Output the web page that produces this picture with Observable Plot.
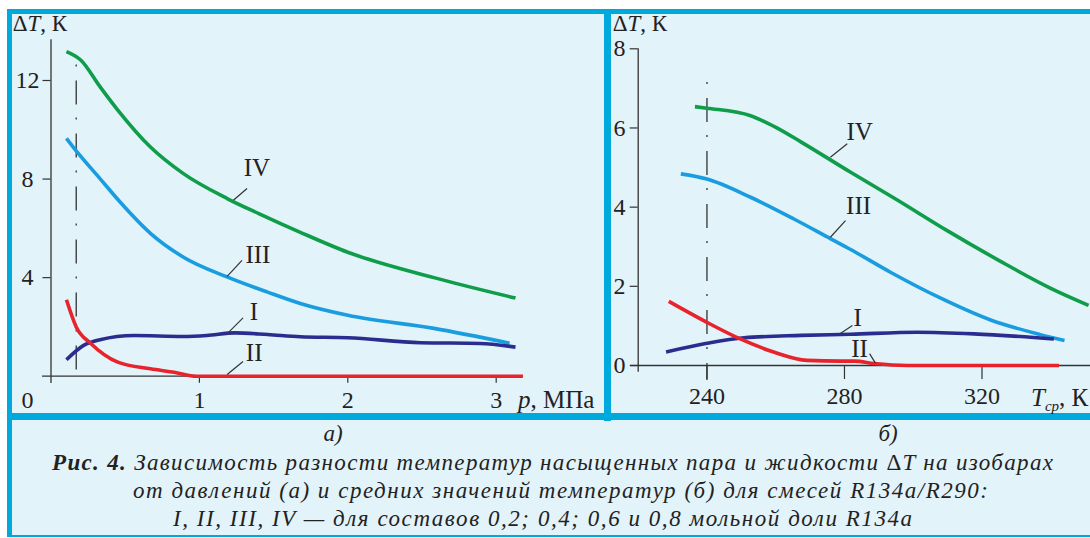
<!DOCTYPE html>
<html>
<head>
<meta charset="utf-8">
<script src="https://cdn.jsdelivr.net/npm/d3@7"></script>
<script src="https://cdn.jsdelivr.net/npm/@observablehq/plot@0.6"></script>
<style>
  html, body { margin: 0; padding: 0; background: #fff; }
  #wrap { position: relative; width: 1090px; height: 538px; overflow: hidden; background: #fff; font-family: "Liberation Serif", serif; }
  .blk { position: absolute; }
  .bg { background: #e2f3fa; }
  .cy { background: #00a9dc; }
  #left, #right { position: absolute; top: 14px; }
  #left { left: 12px; }
  #right { left: 611px; }
  #overlay { position: absolute; left: 0; top: 0; }
</style>
</head>
<body>
<div id="wrap">
  <div class="blk bg" style="left:7px;top:9px;width:1083px;height:412px"></div>
  <div class="blk bg" style="left:7px;top:420px;width:1083px;height:116px"></div>
  <div class="blk cy" style="left:7px;top:9px;width:1083px;height:5px"></div>
  <div class="blk cy" style="left:7px;top:9px;width:5px;height:528px"></div>
  <div class="blk cy" style="left:604px;top:9px;width:7px;height:412px"></div>
  <div class="blk cy" style="left:7px;top:413px;width:1083px;height:7px"></div>
  <div class="blk cy" style="left:7px;top:535px;width:1083px;height:2px"></div>
  <div id="left"></div>
  <div id="right"></div>
  <svg id="overlay" width="1090" height="538" font-family="Liberation Serif" fill="#222"></svg>
</div>
<script>
// ---------- DATA ----------
// Panel а): ΔT vs p (MPa)
const seriesNames = ["I", "II", "III", "IV"];
const leftI   = [[0.104,0.67],[0.22,1.25],[0.33,1.48],[0.56,1.65],[0.89,1.61],[1.05,1.65],[1.24,1.76],[1.46,1.69],[1.68,1.6],[2.0,1.56],[2.49,1.36],[2.89,1.33],[3.13,1.18]];
const leftII  = [[0.104,3.1],[0.17,2.0],[0.27,1.32],[0.45,0.57],[0.67,0.3],[0.83,0.16],[0.98,0.0],[1.5,0.0],[2.5,0.0],[3.18,0.0]];
const leftIII = [[0.104,9.65],[0.17,9.14],[0.33,8.02],[0.455,7.14],[0.67,5.8],[0.89,4.84],[1.19,4.02],[1.46,3.41],[1.68,2.95],[2.0,2.47],[2.58,1.94],[3.09,1.34]];
const leftIV  = [[0.104,13.17],[0.2,12.83],[0.33,11.75],[0.45,10.8],[0.67,9.3],[0.89,8.23],[1.19,7.2],[1.4,6.6],[1.68,5.84],[2.0,5.03],[2.58,4.0],[3.13,3.17]];
const leftXTicks = [1, 2, 3];
const leftYTicks = [4, 8, 12];
const leftMarker = [0.17];
// label text anchor and leader line (x, y, x1, y1, x2, y2)
const leftLabels = [
  {name:"IV",  x:1.387, y:8.43, x1:1.321, y1:7.62, x2:1.229, y2:7.14},
  {name:"III", x:1.394, y:4.91, x1:1.287, y1:4.70, x2:1.187, y2:4.05},
  {name:"I",   x:1.368, y:2.60, x1:1.294, y1:2.37, x2:1.193, y2:1.76},
  {name:"II",  x:1.369, y:0.94, x1:1.294, y1:0.60, x2:1.187, y2:0.07}
];

// Panel б): ΔT vs T_ср (K)
const rightI   = [[228.1,0.34],[240,0.56],[250.8,0.70],[267.3,0.76],[281.8,0.79],[301.2,0.84],[317.6,0.80],[340.9,0.67]];
const rightII  = [[228.9,1.62],[240,1.09],[249.7,0.67],[259.4,0.34],[269.1,0.13],[279,0.11],[283,0.11],[288.6,0.05],[298.3,0.0],[320,0.0],[342.4,0.0]];
const rightIII = [[232.4,4.84],[240,4.71],[252.7,4.25],[265.3,3.7],[276,3.2],[281.8,2.93],[293.5,2.35],[308,1.7],[322.5,1.15],[337,0.78],[344,0.63]];
const rightIV  = [[236.5,6.54],[240,6.5],[252.7,6.31],[259.5,6.04],[267.3,5.65],[281.8,4.88],[295,4.2],[310,3.4],[325,2.65],[340,1.95],[351,1.52]];
const rightXTicks = [240, 280, 320];
const rightYTicks = [0, 2, 4, 6, 8];
const rightMarker = [240];
const rightLabels = [
  {name:"IV",  x:284.4, y:5.91, x1:280.8, y1:5.60, x2:275.9, y2:5.26},
  {name:"III", x:284.1, y:4.04, x1:280.3, y1:3.66, x2:275.9, y2:3.24},
  {name:"I",   x:283.8, y:1.21, x1:282.3, y1:1.01, x2:278.8, y2:0.81},
  {name:"II",  x:284.4, y:0.42, x1:287.3, y1:0.30, x2:289.0, y2:0.06}
];

const colors = {I:"#2b2d8e", II:"#e8232b", III:"#1a9de0", IV:"#0f9d4a"};
const FONT = "Liberation Serif";
const AX = "#333";

function curves(list) {
  return list.map(([name, data]) => Plot.line(data, {
    x: d => d[0], y: d => d[1], stroke: colors[name], strokeWidth: 3.6,
    curve: "monotone-x", strokeLinecap: "butt"
  }));
}
function labelMarks(labels) {
  return [
    Plot.link(labels, {x1:"x1", y1:"y1", x2:"x2", y2:"y2", stroke: AX, strokeWidth: 1.2}),
    Plot.text(labels, {x:"x", y:"y", text:"name", fontSize: 25, fill:"#222", fontFamily: FONT})
  ];
}
const fmt = d => String(d);

// ---------- LEFT PANEL ----------
const leftPlot = Plot.plot({
  width: 592, height: 399,
  marginLeft: 38.5, marginRight: 108.3, marginTop: 66, marginBottom: 37.3,
  x: {domain: [0, 3]},
  y: {domain: [0, 12]},
  style: {background: "transparent", fontFamily: FONT, color: "#222", overflow: "visible"},
  marks: [
    Plot.ruleY([0], {x1: -0.057, x2: 3.18, stroke: AX, strokeWidth: 1.3}),
    Plot.ruleX([0], {y1: -0.3, y2: 13.65, stroke: AX, strokeWidth: 1.3}),
    Plot.axisY({ticks: leftYTicks, tickFormat: fmt, tickSize: 8, tickPadding: 15.5, textAnchor: "middle", fontSize: 24, stroke: AX, strokeWidth: 1.2, label: null}),
    Plot.axisX({ticks: leftXTicks, tickFormat: fmt, tickSize: 7, tickPadding: 8, fontSize: 24, stroke: AX, strokeWidth: 1.2, label: null}),
    Plot.text(["0"], {x: 0, y: 0, text: d => d, dx: -23.5, dy: 15, lineAnchor: "top", fontSize: 24, fill: "#222"}),
    Plot.ruleX(leftMarker, {y1: 12.63, y2: 0, stroke: AX, strokeWidth: 1.3, strokeDasharray: "2,14,24,13"}),
    ...curves([["III", leftIII], ["IV", leftIV], ["I", leftI], ["II", leftII]]),
    ...labelMarks(leftLabels)
  ]
});
document.getElementById("left").appendChild(leftPlot);

// ---------- RIGHT PANEL ----------
const rightPlot = Plot.plot({
  width: 479, height: 399,
  marginLeft: 26.7, marginRight: 108.5, marginTop: 34.3, marginBottom: 48,
  x: {domain: [220, 320]},
  y: {domain: [0, 8]},
  style: {background: "transparent", fontFamily: FONT, color: "#222", overflow: "visible"},
  marks: [
    Plot.ruleY([0], {x1: 217.8, x2: 360, stroke: AX, strokeWidth: 1.3}),
    Plot.ruleX([220], {y1: -0.17, y2: 8, stroke: AX, strokeWidth: 1.3}),
    Plot.axisY({ticks: rightYTicks, tickFormat: fmt, tickSize: 8, tickPadding: 10.7, textAnchor: "middle", fontSize: 24, stroke: AX, strokeWidth: 1.2, label: null}),
    Plot.axisX({ticks: rightXTicks, tickFormat: fmt, tickSize: 14, tickPadding: 7.5, fontSize: 24, stroke: AX, strokeWidth: 1.2, label: null}),
    Plot.ruleX(rightMarker, {y1: 7.15, y2: -0.38, stroke: AX, strokeWidth: 1.3, strokeDasharray: "2,14,24,13"}),
    ...curves([["III", rightIII], ["IV", rightIV], ["I", rightI], ["II", rightII]]),
    ...labelMarks(rightLabels)
  ]
});
document.getElementById("right").appendChild(rightPlot);

// ---------- TEXT OVERLAY ----------
const ov = d3.select("#overlay");
function title(x, y, parts, fs) {
  const t = ov.append("text").attr("x", x).attr("y", y).attr("font-size", fs || 24);
  parts.forEach(p => {
    const s = t.append("tspan").text(p.t);
    if (p.i) s.attr("font-style", "italic");
    if (p.fs) s.attr("font-size", p.fs);
    if (p.dy) s.attr("dy", p.dy);
    if (p.b) s.attr("font-weight", "bold");
  });
  return t;
}
title(12.7, 31, [{t:"Δ"}, {t:"T", i:1}, {t:", К"}], 23);
title(612.7, 31, [{t:"Δ"}, {t:"T", i:1}, {t:", К"}], 23);
title(518, 408, [{t:"p", i:1}, {t:", МПа"}], 25);
title(1031, 406, [{t:"T", i:1}, {t:"ср", i:1, fs:15, dy:5}, {t:", К", dy:-5}], 25);

ov.append("text").attr("x", 333).attr("y", 441).attr("text-anchor", "middle").attr("font-size", 23).attr("font-style", "italic").text("а)");
ov.append("text").attr("x", 888).attr("y", 441).attr("text-anchor", "middle").attr("font-size", 23).attr("font-style", "italic").text("б)");

const captionLines = [
  {x: 52, y: 470, w: 1001, parts: [{t:"Рис. 4.", b:1}, {t:" Зависимость разности температур насыщенных пара и жидкости "}, {t:"Δ", n:1}, {t:"T на изобарах"}]},
  {x: 133, y: 498, w: 855, parts: [{t:"от давлений (а) и средних значений температур (б) для смесей R134a/R290:"}]},
  {x: 173, y: 526, w: 739, parts: [{t:"I, II, III, IV — для составов 0,2; 0,4; 0,6 и 0,8 мольной доли R134a"}]}
];
captionLines.forEach(l => {
  const t = ov.append("text").attr("x", l.x).attr("y", l.y).attr("font-size", 23)
    .attr("font-style", "italic").attr("textLength", l.w).attr("lengthAdjust", "spacing");
  l.parts.forEach(p => {
    const s = t.append("tspan").text(p.t);
    if (p.b) s.attr("font-weight", "bold");
    if (p.n) s.attr("font-style", "normal");
  });
});
</script>
</body>
</html>
